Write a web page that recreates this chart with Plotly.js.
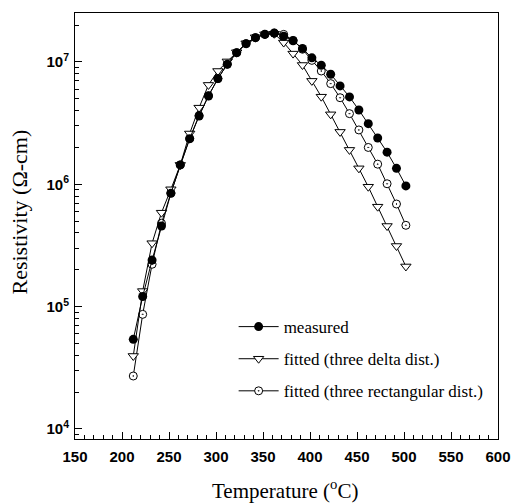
<!DOCTYPE html>
<html>
<head>
<meta charset="utf-8">
<script src="https://cdn.plot.ly/plotly-3.0.1.min.js"></script>
<style>html,body{margin:0;padding:0;background:#fff;}#chart{width:512px;height:504px;}</style>
</head>
<body>
<div id="chart"></div>
<script>
// Temperature (°C)
var temperature = [212,222,232,242,252,262,272,282,292,302,312,322,332,342,352,362,372,382,392,402,412,422,432,442,452,462,472,482,492,502];
// Resistivity (Ohm-cm)
var measured = [5.40e4,1.21e5,2.40e5,4.56e5,8.43e5,1.44e6,2.36e6,3.61e6,5.27e6,7.31e6,9.57e6,1.19e7,1.41e7,1.58e7,1.68e7,1.72e7,1.62e7,1.49e7,1.29e7,1.08e7,9.4e6,7.93e6,6.37e6,5.18e6,4.05e6,3.13e6,2.39e6,1.83e6,1.35e6,9.7e5];
var fittedDelta = [3.95e4,1.34e5,3.30e5,5.86e5,9.1e5,1.44e6,2.60e6,4.23e6,6.49e6,8.43e6,1.01e7,1.20e7,1.42e7,1.59e7,1.68e7,1.70e7,1.44e7,1.17e7,9.44e6,7.0e6,5.2e6,3.73e6,2.68e6,1.91e6,1.35e6,9.55e5,6.56e5,4.56e5,3.13e5,2.13e5];
var fittedRect = [2.71e4,8.65e4,2.22e5,4.8e5,8.5e5,1.44e6,2.36e6,3.65e6,5.3e6,7.3e6,9.6e6,1.19e7,1.41e7,1.58e7,1.68e7,1.72e7,1.68e7,1.5e7,1.27e7,1.03e7,8.43e6,6.65e6,5.1e6,3.78e6,2.78e6,2.0e6,1.46e6,1.01e6,6.9e5,4.62e5];
var seriesNames = ['measured','fitted (three delta dist.)','fitted (three rectangular dist.)'];
var yTickVals = [1e4,1e5,1e6,1e7];
var yTickText = ['10<sup>4</sup>','10<sup>5</sup>','10<sup>6</sup>','10<sup>7</sup>'];

var minorY = [];
for (var d = 3; d <= 7; d++) { for (var m = 2; m <= 9; m++) { minorY.push(m * Math.pow(10, d)); } }

var yRange = [3.918, 7.40];
var xRange = [150, 600];
var tickFont = {family: 'Liberation Sans, Arial, sans-serif', size: 15, color: '#000', weight: 'bold'};

var traces = [
  {x: temperature, y: fittedRect, name: seriesNames[2], mode: 'lines+markers', legendrank: 3, legendgroup: 'c',
   line: {color: '#000', width: 1}, marker: {symbol: 'circle-dot', size: 8, color: '#fff', line: {color: '#000', width: 1}}},
  {x: temperature, y: fittedDelta, name: seriesNames[1], mode: 'lines+markers', legendrank: 2, legendgroup: 'b',
   line: {color: '#000', width: 1}, marker: {symbol: 'triangle-down', size: 9, color: '#fff', line: {color: '#000', width: 1}}},
  {x: temperature, y: measured, name: seriesNames[0], mode: 'lines+markers', legendrank: 1, legendgroup: 'a',
   line: {color: '#000', width: 1}, marker: {symbol: 'circle', size: 9, color: '#000', line: {color: '#000', width: 0}}}
];

var layout = {
  width: 512, height: 504,
  margin: {l: 75, r: 14, t: 13, b: 65},
  paper_bgcolor: '#fff', plot_bgcolor: '#fff',
  showlegend: true,
  legend: {x: 0.375, y: 0.305, xanchor: 'left', yanchor: 'top', bgcolor: 'rgba(0,0,0,0)', borderwidth: 0,
           font: {family: 'Liberation Serif, Times New Roman, serif', size: 17, color: '#000'},
           itemwidth: 40, tracegroupgap: 7, traceorder: 'grouped'},
  xaxis: {range: xRange, dtick: 50, tick0: 150, ticks: 'inside', ticklen: 7, tickwidth: 1, tickcolor: '#000',
          showline: true, linecolor: '#000', linewidth: 1, mirror: true, showgrid: false, zeroline: false,
          tickfont: tickFont, ticklabelstandoff: 4,
          minor: {dtick: 10, tick0: 150, ticks: 'inside', ticklen: 4, tickcolor: '#000', tickwidth: 1, showgrid: false}},
  xaxis2: {range: xRange, overlaying: 'x', side: 'top', dtick: 50, tick0: 150, ticks: 'inside', ticklen: 7,
           tickcolor: '#000', showticklabels: false, showline: false, showgrid: false, zeroline: false},
  yaxis: {type: 'log', range: yRange, tickmode: 'array', tickvals: yTickVals, ticktext: yTickText,
          ticks: 'inside', ticklen: 7, tickwidth: 1, tickcolor: '#000', showline: true, linecolor: '#000', linewidth: 1,
          mirror: true, showgrid: false, zeroline: false, tickfont: tickFont, ticklabelstandoff: 2,
          minor: {tickmode: 'array', tickvals: minorY, ticks: 'inside', ticklen: 4, tickcolor: '#000', tickwidth: 1, showgrid: false}},
  yaxis2: {type: 'log', range: yRange, overlaying: 'y', side: 'right', tickmode: 'array', tickvals: yTickVals,
           ticks: 'inside', ticklen: 7, tickcolor: '#000', showticklabels: false, showline: false, showgrid: false, zeroline: false},
  annotations: [
    {text: 'Temperature (<sup>o</sup>C)', xref: 'paper', yref: 'paper', x: 0.497, y: -0.119, xanchor: 'center', yanchor: 'middle',
     showarrow: false, font: {family: 'Liberation Serif, Times New Roman, serif', size: 21, color: '#000'}},
    {text: 'Resistivity (\u03A9-cm)', xref: 'paper', yref: 'paper', x: -0.132, y: 0.532, xanchor: 'center', yanchor: 'middle',
     textangle: -90, showarrow: false, font: {family: 'Liberation Serif, Times New Roman, serif', size: 22, color: '#000'}}
  ]
};

Plotly.newPlot('chart', traces, layout, {staticPlot: true, displayModeBar: false});
</script>
</body>
</html>
